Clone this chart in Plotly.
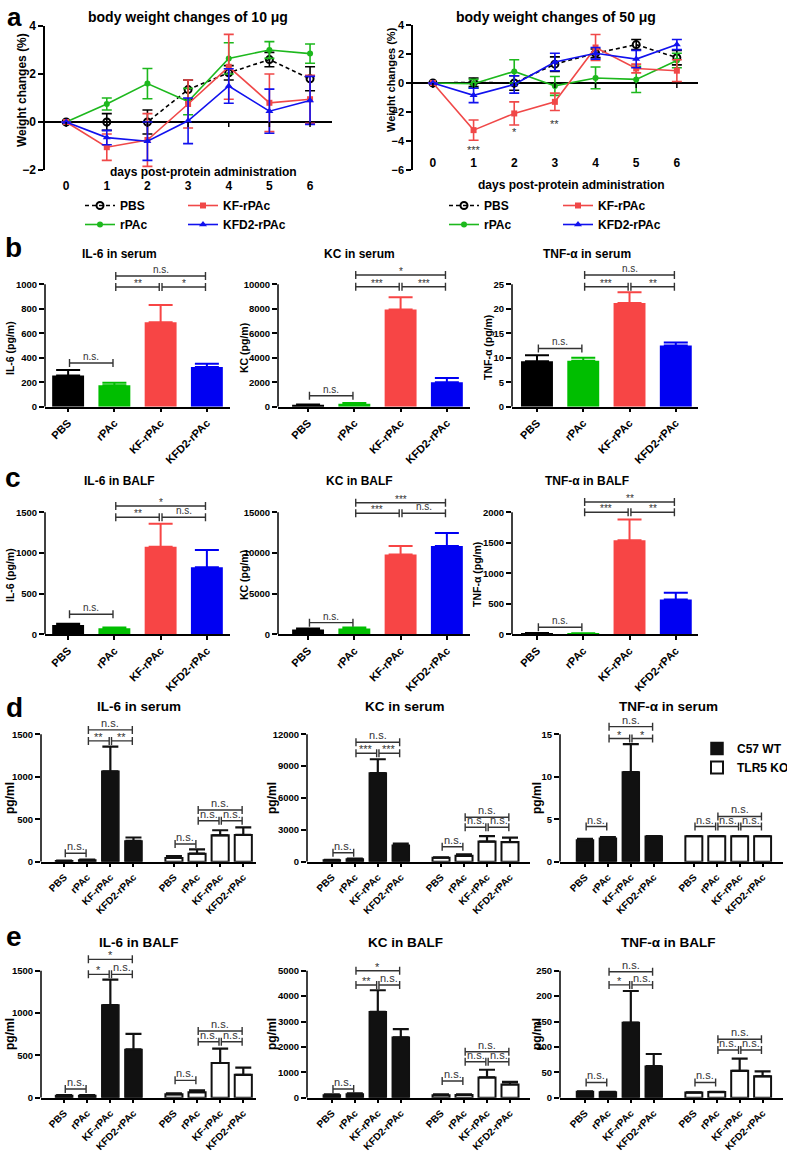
import plotly.graph_objects as go

W, H = 787, 1152
FONT = "Arial, 'Liberation Sans', Helvetica, sans-serif"

# ======================= DATA =======================
days = [0, 1, 2, 3, 4, 5, 6]
line_groups = ["PBS", "rPAc", "KF-rPAc", "KFD2-rPAc"]

# body weight changes, 10 ug (mean, SEM)
bw10_pbs = [0, 0.0, 0.0, 1.35, 2.05, 2.6, 1.8]
bw10_pbs_err = [0, 0.35, 0.5, 0.4, 0.3, 0.3, 0.5]
bw10_rpac = [0, 0.75, 1.6, 0.85, 2.65, 3.0, 2.85]
bw10_rpac_err = [0, 0.25, 0.63, 0.55, 0.65, 0.35, 0.4]
bw10_kf = [0, -1.05, -0.75, 0.75, 2.3, 0.8, 0.95]
bw10_kf_err = [0, 0.55, 1.1, 1.0, 1.35, 1.2, 1.0]
bw10_kfd2 = [0, -0.65, -0.8, 0.05, 1.5, 0.45, 0.9]
bw10_kfd2_err = [0, 0.3, 0.8, 0.95, 0.72, 0.92, 1.0]

# body weight changes, 50 ug (mean, SEM)
bw50_pbs = [0, 0.05, 0.0, 1.3, 2.05, 2.65, 1.75]
bw50_pbs_err = [0, 0.3, 0.5, 0.5, 0.3, 0.35, 0.5]
bw50_rpac = [0, -0.05, 0.8, -0.2, 0.35, 0.25, 1.55]
bw50_rpac_err = [0, 0.3, 0.8, 0.65, 0.75, 0.9, 0.5]
bw50_kf = [0, -3.25, -2.1, -1.3, 2.45, 1.0, 0.85]
bw50_kf_err = [0, 0.7, 0.8, 0.6, 0.9, 0.3, 0.75]
bw50_kfd2 = [0, -0.85, -0.1, 1.45, 2.05, 1.65, 2.65]
bw50_kfd2_err = [0, 0.5, 0.6, 0.6, 0.4, 0.6, 0.35]
bw50_sig_days = [1, 2, 3]
bw50_sig_labels = ["***", "*", "**"]
bw50_sig_y = [-4.6, -3.4, -2.85]

groups = ["PBS", "rPAc", "KF-rPAc", "KFD2-rPAc"]

# panel b (serum), mean and SEM
il6_serum = [255, 175, 690, 325]
il6_serum_sem = [45, 20, 140, 25]
kc_serum = [150, 250, 7950, 2000]
kc_serum_sem = [30, 50, 1000, 350]
tnf_serum = [9.3, 9.4, 21.2, 12.5]
tnf_serum_sem = [1.2, 0.6, 2.2, 0.6]
# panel c (BALF)
il6_balf = [115, 75, 1075, 825]
il6_balf_sem = [15, 10, 285, 210]
kc_balf = [600, 700, 9800, 10850]
kc_balf_sem = [100, 150, 1050, 1600]
tnf_balf = [15, 12, 1540, 570]
tnf_balf_sem = [5, 5, 340, 110]

# significance brackets: (from index, to index, height, label)
il6_serum_sig = [(0, 1, 357, "n.s."), (1, 2, 978, "**"), (2, 3, 978, "*"), (1, 3, 1068, "n.s.")]
kc_serum_sig = [(0, 1, 900, "n.s."), (1, 2, 9800, "***"), (2, 3, 9800, "***"), (1, 3, 10760, "*")]
tnf_serum_sig = [(0, 1, 11.9, "n.s."), (1, 2, 24.5, "***"), (2, 3, 24.5, "**"), (1, 3, 26.9, "n.s.")]
il6_balf_sig = [(0, 1, 246, "n.s."), (1, 2, 1439, "**"), (2, 3, 1439, "n.s."), (1, 3, 1578, "*")]
kc_balf_sig = [(0, 1, 1430, "n.s."), (1, 2, 14880, "***"), (2, 3, 14880, "n.s."), (1, 3, 16180, "***")]
tnf_balf_sig = [(0, 1, 115, "n.s."), (1, 2, 2000, "***"), (2, 3, 2000, "**"), (1, 3, 2169, "**")]

# panels d / e : C57 WT vs TLR5 KO
d_il6_wt = [10, 20, 1065, 245]
d_il6_wt_sem = [3, 5, 290, 40]
d_il6_ko = [45, 95, 310, 315]
d_il6_ko_sem = [20, 50, 60, 90]
d_kc_wt = [150, 250, 8350, 1550]
d_kc_wt_sem = [30, 40, 1300, 150]
d_kc_ko = [380, 550, 1900, 1850]
d_kc_ko_sem = [40, 150, 500, 420]
d_tnf_wt = [2.55, 2.75, 10.55, 3.0]
d_tnf_wt_sem = [0.15, 0.15, 3.3, 0]
d_tnf_ko = [3.0, 3.0, 3.0, 3.0]
d_tnf_ko_sem = [0, 0, 0, 0]
e_il6_wt = [25, 25, 1095, 570]
e_il6_wt_sem = [5, 5, 300, 185]
e_il6_ko = [40, 65, 410, 270]
e_il6_ko_sem = [10, 22, 170, 85]
e_kc_wt = [110, 150, 3380, 2380]
e_kc_wt_sem = [20, 20, 850, 320]
e_kc_ko = [100, 110, 800, 520]
e_kc_ko_sem = [30, 20, 300, 100]
e_tnf_wt = [12, 11, 148, 62]
e_tnf_wt_sem = [0.5, 0.5, 62, 24]
e_tnf_ko = [10, 11, 53, 42]
e_tnf_ko_sem = [0.5, 0.5, 24, 10]

d_il6_sig = [(0, 1, 99, "n.s."), (1, 2, 1422, "**"), (2, 3, 1422, "**"), (1, 3, 1552, "n.s."),
             (4, 5, 208, "n.s."), (5, 6, 483, "n.s."), (6, 7, 483, "n.s."), (5, 7, 609, "n.s.")]
d_kc_sig = [(0, 1, 850, "n.s."), (1, 2, 10220, "***"), (2, 3, 10220, "***"), (1, 3, 11255, "n.s."),
            (4, 5, 1415, "n.s."), (5, 6, 3240, "n.s."), (6, 7, 3240, "n.s."), (5, 7, 4185, "n.s.")]
d_tnf_sig = [(0, 1, 4.14, "n.s."), (1, 2, 14.5, "*"), (2, 3, 14.5, "*"), (1, 3, 15.9, "n.s."),
             (4, 5, 4.14, "n.s."), (5, 6, 4.14, "n.s."), (6, 7, 4.14, "n.s."), (5, 7, 5.33, "n.s.")]
e_il6_sig = [(0, 1, 103, "n.s."), (1, 2, 1457, "*"), (2, 3, 1457, "n.s."), (1, 3, 1634, "*"),
             (4, 5, 205, "n.s."), (5, 6, 661, "n.s."), (6, 7, 661, "n.s."), (5, 7, 788, "n.s.")]
e_kc_sig = [(0, 1, 343, "n.s."), (1, 2, 4437, "**"), (2, 3, 4437, "n.s."), (1, 3, 5000, "*"),
            (4, 5, 657, "n.s."), (5, 6, 1417, "n.s."), (6, 7, 1417, "n.s."), (5, 7, 1811, "n.s.")]
e_tnf_sig = [(0, 1, 30, "n.s."), (1, 2, 222, "*"), (2, 3, 222, "n.s."), (1, 3, 248, "n.s."),
             (4, 5, 30, "n.s."), (5, 6, 94, "n.s."), (6, 7, 94, "n.s."), (5, 7, 115, "n.s.")]

# ======================= STYLE / LAYOUT =======================
COL_BAR = ["#000000", "#00BE00", "#F74545", "#0000F2"]
COL_LINE = ["#000000", "#1DB81D", "#F04848", "#1111EE"]
SIG_COL = "#333333"

fig = go.Figure()
layout = dict(width=W, height=H, margin=dict(l=0, r=0, t=0, b=0, pad=0, autoexpand=False),
              paper_bgcolor="white", plot_bgcolor="white", barmode="overlay",
              font=dict(family=FONT, color="black"), showlegend=True)
shapes, annotations = [], []


def fnt(size, weight="bold", color="black"):
    return dict(family=FONT, size=size, color=color, weight=weight)


def ids(n):
    s = "" if n == 1 else str(n)
    return "xaxis" + s, "yaxis" + s, "x" + s, "y" + s


def add_text(x, y, s, size, weight="bold", angle=0, xanchor="center", yanchor="middle"):
    annotations.append(dict(xref="paper", yref="paper", x=x / W, y=1 - y / H, text=s,
                            showarrow=False, font=fnt(size, weight), textangle=angle,
                            xanchor=xanchor, yanchor=yanchor))


def add_brackets(n, pos, sig, shrink, size, tick=4):
    _, _, xr, yr = ids(n)
    for i, j, h, lab in sig:
        xa, xb = pos[i] + shrink, pos[j] - shrink
        ln = dict(color=SIG_COL, width=1.4)
        shapes.append(dict(type="line", xref=xr, yref=yr, x0=xa, x1=xb, y0=h, y1=h, line=ln))
        for xx in (xa, xb):
            shapes.append(dict(type="line", xref=xr, yref=yr, x0=xx, x1=xx, ysizemode="pixel",
                               yanchor=h, y0=-tick, y1=tick, line=ln))
        star = "*" in lab
        annotations.append(dict(xref=xr, yref=yr, x=(xa + xb) / 2, y=h, text=lab, showarrow=False,
                                yanchor="bottom", yshift=-4 if star else -1,
                                font=fnt(size, "normal", SIG_COL)))


def setup_bar_axes(n, x0, x1, xrange_, pos, labels, pb, pt, pd, tick_top, tick_step, xfs, yfs):
    xa, ya, xr, yr = ids(n)
    ymax = tick_top * (pb - pd) / (pb - pt)
    tv = []
    v = 0
    while v <= tick_top + 1e-9:
        tv.append(v)
        v += tick_step
    layout[xa] = dict(domain=[x0 / W, x1 / W], range=xrange_, anchor=yr, showline=True,
                      linecolor="black", linewidth=1.5, ticks="outside", ticklen=4, tickwidth=1.5,
                      tickcolor="black", tickmode="array", tickvals=pos, ticktext=labels,
                      tickangle=-45, tickfont=fnt(xfs), showgrid=False, zeroline=False)
    layout[ya] = dict(domain=[1 - pb / H, 1 - pd / H], range=[0, ymax], anchor=xr, showline=False,
                      ticks="outside", ticklen=5, tickwidth=1.5, tickcolor="black",
                      tickmode="array", tickvals=tv, ticktext=[f"{t:g}" for t in tv],
                      tickfont=fnt(yfs), showgrid=False, zeroline=False)
    shapes.append(dict(type="line", xref=xr + " domain", x0=0, x1=0, yref=yr, y0=0, y1=tick_top,
                       line=dict(color="black", width=1.5)))


# ---------------- panel a ----------------
a_series = [
    ("PBS", bw10_pbs, bw10_pbs_err, bw50_pbs, bw50_pbs_err, COL_LINE[0], "4px,3px", "circle-open", 7),
    ("rPAc", bw10_rpac, bw10_rpac_err, bw50_rpac, bw50_rpac_err, COL_LINE[1], "solid", "circle", 6),
    ("KF-rPAc", bw10_kf, bw10_kf_err, bw50_kf, bw50_kf_err, COL_LINE[2], "solid", "square", 6),
    ("KFD2-rPAc", bw10_kfd2, bw10_kfd2_err, bw50_kfd2, bw50_kfd2_err, COL_LINE[3], "solid", "triangle-up", 7),
]
for k, (name, y10, e10, y50, e50, col, dash, sym, msz) in enumerate(a_series):
    col_leg = "legend" if k in (0, 1) else "legend2"
    col_leg2 = "legend3" if k in (0, 1) else "legend4"
    for (yy, ee, xa, ya, lg) in ((y10, e10, "x", "y", col_leg), (y50, e50, "x2", "y2", col_leg2)):
        fig.add_trace(go.Scatter(
            x=days, y=yy, name=name, mode="lines+markers", xaxis=xa, yaxis=ya, legend=lg,
            line=dict(color=col, width=1.6, dash=dash),
            marker=dict(symbol=sym, size=msz, color=col, line=dict(color=col, width=2 if sym == "circle-open" else 0)),
            error_y=dict(type="data", array=ee, color=col, thickness=1.6, width=5),
            hoverinfo="skip"))

for n, x0, x1, xr_, ytop, ybot, yr_, ytv, stand, yfs in (
        (1, 45, 332, [-0.52, 6.54], 26, 170, [-2, 4], [-2, 0, 2, 4], 7, 12),
        (2, 413, 698, [-0.49, 6.52], 25, 170, [-6, 4], [-6, -4, -2, 0, 2, 4], -16, 11)):
    xa, ya, xr, yr = ids(n)
    layout[xa] = dict(domain=[x0 / W, x1 / W], range=xr_, anchor=yr, showline=False, ticks="",
                      tickmode="array", tickvals=days, tickfont=fnt(12), showgrid=False,
                      zeroline=False, ticklabelstandoff=stand)
    layout[ya] = dict(domain=[1 - ybot / H, 1 - ytop / H], range=yr_, anchor=xr, showline=True,
                      linecolor="black", linewidth=1.5, ticks="outside", ticklen=5, tickwidth=1.5,
                      tickcolor="black", tickmode="array", tickvals=ytv, tickfont=fnt(yfs),
                      showgrid=False, zeroline=True, zerolinecolor="black", zerolinewidth=1.5)
    for d in days:
        shapes.append(dict(type="line", xref=xr, yref=yr, x0=d, x1=d, ysizemode="pixel", yanchor=0,
                           y0=0, y1=-5, line=dict(color="black", width=1.5)))

for dd, lab, yy in zip(bw50_sig_days, bw50_sig_labels, bw50_sig_y):
    annotations.append(dict(xref="x2", yref="y2", x=dd, y=yy, text=lab, showarrow=False,
                            font=fnt(11, "normal", SIG_COL)))

add_text(14, 0, "a", 26, yanchor="top")
add_text(188, 17, "body weight changes of 10 μg", 14)
add_text(556, 17, "body weight changes of 50 μg", 14)
add_text(22, 90, "Weight changes (%)", 12, angle=-90)
add_text(391, 80, "Weight changes (%)", 11, angle=-90)
add_text(203, 172, "days post-protein administration", 12)
add_text(571, 185, "days post-protein administration", 12)

leg_common = dict(xanchor="left", yanchor="top", orientation="v", font=fnt(12),
                  bgcolor="rgba(0,0,0,0)", itemwidth=30, tracegroupgap=0)
layout["legend"] = dict(x=80 / W, y=1 - 191 / H, **leg_common)
layout["legend2"] = dict(x=183 / W, y=1 - 191 / H, **leg_common)
layout["legend3"] = dict(x=444 / W, y=1 - 191 / H, **leg_common)
layout["legend4"] = dict(x=558 / W, y=1 - 191 / H, **leg_common)

# ---------------- panels b / c ----------------
bc_pos = list(range(len(groups)))
bc_panels = [
    # n, vals, sem, sig, ytitle, title, x0, x1, xrange, tick_top, step, row
    (3, il6_serum, il6_serum_sem, il6_serum_sig, "IL-6 (pg/m)", "IL-6 in serum", 45, 230, [-0.5, 3.5], 1000, 200, "b"),
    (4, kc_serum, kc_serum_sem, kc_serum_sig, "KC (pg/m)", "KC in serum", 278, 470, [-0.65, 3.5], 10000, 2000, "b"),
    (5, tnf_serum, tnf_serum_sem, tnf_serum_sig, "TNF-α (pg/m)", "TNF-α in serum", 512, 698, [-0.54, 3.48], 25, 5, "b"),
    (6, il6_balf, il6_balf_sem, il6_balf_sig, "IL-6 (pg/m)", "IL-6 in BALF", 45, 230, [-0.5, 3.5], 1500, 500, "c"),
    (7, kc_balf, kc_balf_sem, kc_balf_sig, "KC (pg/m)", "KC in BALF", 278, 470, [-0.65, 3.5], 15000, 5000, "c"),
    (8, tnf_balf, tnf_balf_sem, tnf_balf_sig, "TNF-α (pg/m)", "TNF-α in BALF", 512, 698, [-0.54, 3.48], 2000, 500, "c"),
]
row_geom = {"b": (406.7, 284.3, 262, 254, 348), "c": (634.3, 512.3, 490, 481, 575)}
ytitle_x = {"b": [10, 244, 488], "c": [10, 244, 477]}
title_x = [119, 359, 587]
for k, (n, vals, sems, sig, ytit, tit, x0, x1, xr_, ttop, step, row) in enumerate(bc_panels):
    pb, pt, pd, ty, yty = row_geom[row]
    setup_bar_axes(n, x0, x1, xr_, bc_pos, groups, pb, pt, pd, ttop, step, 11, 9.5)
    _, _, xr, yr = ids(n)
    for i in range(len(groups)):
        fig.add_trace(go.Bar(
            x=[bc_pos[i]], y=[vals[i]], width=0.69, xaxis=xr, yaxis=yr, showlegend=False,
            marker=dict(color=COL_BAR[i], line=dict(width=0)), hoverinfo="skip",
            error_y=dict(type="data", symmetric=False, array=[sems[i]], arrayminus=[0],
                         color=COL_BAR[i], thickness=2, width=12)))
    add_brackets(n, bc_pos, sig, 0.03, 10)
    add_text(title_x[k % 3], ty, tit, 12)
    add_text(ytitle_x[row][k % 3], yty, ytit, 10.5, angle=-90)

add_text(13, 247, "b", 28)
add_text(13, 477, "c", 28)

# ---------------- panels d / e ----------------
pos_wt = [0, 1, 2, 3]
pos_ko = [p + 4.75 for p in pos_wt]
de_pos = pos_wt + pos_ko
de_labels = groups + groups
de_panels = [
    (9, d_il6_wt, d_il6_wt_sem, d_il6_ko, d_il6_ko_sem, d_il6_sig, "IL-6 in serum", 41, 256, [-1.0, 8.3], 1500, 500, "d"),
    (10, d_kc_wt, d_kc_wt_sem, d_kc_ko, d_kc_ko_sem, d_kc_sig, "KC in serum", 307, 530, [-1.08, 8.62], 12000, 3000, "d"),
    (11, d_tnf_wt, d_tnf_wt_sem, d_tnf_ko, d_tnf_ko_sem, d_tnf_sig, "TNF-α in serum", 560, 783, [-1.09, 8.64], 15, 5, "d"),
    (12, e_il6_wt, e_il6_wt_sem, e_il6_ko, e_il6_ko_sem, e_il6_sig, "IL-6 in BALF", 41, 256, [-1.0, 8.3], 1500, 500, "e"),
    (13, e_kc_wt, e_kc_wt_sem, e_kc_ko, e_kc_ko_sem, e_kc_sig, "KC in BALF", 307, 530, [-1.08, 8.62], 5000, 1000, "e"),
    (14, e_tnf_wt, e_tnf_wt_sem, e_tnf_ko, e_tnf_ko_sem, e_tnf_sig, "TNF-α in BALF", 560, 783, [-1.09, 8.64], 250, 50, "e"),
]
de_geom = {"d": (861.7, 734.3, 714, 706, 798), "e": (1097.7, 970.7, 950, 942, 1034)}
de_title_x = [139, 405, 668]
de_ytitle_x = [10, 272, 537]
for k, (n, wt, wts, ko, kos, sig, tit, x0, x1, xr_, ttop, step, row) in enumerate(de_panels):
    pb, pt, pd, ty, yty = de_geom[row]
    setup_bar_axes(n, x0, x1, xr_, de_pos, de_labels, pb, pt, pd, ttop, step, 10, 9.5)
    _, _, xr, yr = ids(n)
    show = (n == 11)
    fig.add_trace(go.Bar(
        x=pos_wt, y=wt, width=0.74, xaxis=xr, yaxis=yr, name="C57 WT", showlegend=show,
        legend="legend5", marker=dict(color="#111111", line=dict(color="#111111", width=1.5)),
        hoverinfo="skip",
        error_y=dict(type="data", symmetric=False, array=wts, arrayminus=[0] * 4,
                     color="#111111", thickness=2.2, width=8)))
    fig.add_trace(go.Bar(
        x=pos_ko, y=ko, width=0.74, xaxis=xr, yaxis=yr, name="TLR5 KO", showlegend=show,
        legend="legend5", marker=dict(color="white", line=dict(color="#111111", width=2)),
        hoverinfo="skip",
        error_y=dict(type="data", symmetric=False, array=kos, arrayminus=[0] * 4,
                     color="#111111", thickness=2.2, width=8)))
    add_brackets(n, de_pos, sig, 0.05, 11)
    add_text(de_title_x[k % 3], ty, tit, 13.5)
    add_text(de_ytitle_x[k % 3], yty, "pg/ml", 12, angle=-90)

add_text(14, 707, "d", 28)
add_text(14, 936, "e", 28)
layout["legend5"] = dict(x=697 / W, y=1 - 734 / H, xanchor="left", yanchor="top",
                         orientation="v", font=fnt(12), bgcolor="rgba(0,0,0,0)",
                         itemwidth=30, tracegroupgap=0)

layout["shapes"] = shapes
layout["annotations"] = annotations
fig.update_layout(**layout)
fig.write_html("out.html", config={"displayModeBar": False},
               post_script="document.body.style.margin='0px';document.body.style.overflow='hidden';")
